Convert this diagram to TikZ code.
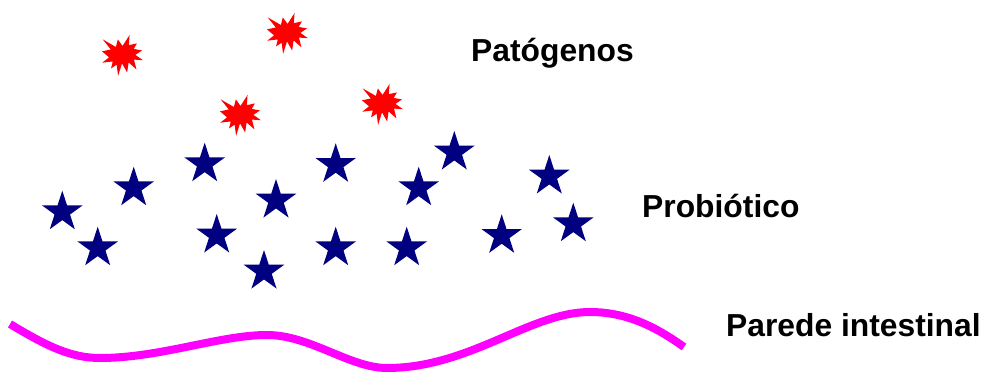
\documentclass[tikz,border=0pt]{standalone}
\usepackage{fontspec}
\setmainfont{Liberation Sans}
\usetikzlibrary{shapes.geometric}
\definecolor{starblue}{RGB}{0,0,128}
\definecolor{burstred}{RGB}{255,0,0}
\definecolor{wallpink}{RGB}{255,0,255}
\tikzset{
  bug/.style={shape=star, star points=5, star point ratio=2.618,
    minimum size=42.6pt, inner sep=0pt, fill=starblue, draw=none},
  burst/.pic={
    \fill[burstred] (20.00,10.74) -- (26.89,0) -- (26.21,9.86) -- (34.04,8.25)
      -- (30.93,13.55) -- (39.07,15.07) -- (32.61,19.40) -- (40,24.61)
      -- (31.18,23.97) -- (33.60,33.51) -- (25.96,26.77) -- (24.53,36.55)
      -- (19.50,27.66) -- (15.71,40) -- (14.29,28.94) -- (8.82,32.62)
      -- (10.49,25.81) -- (0.25,27.01) -- (6.89,21.81) -- (0,15.95)
      -- (8.57,14.11) -- (0.69,4.25) -- (13.54,11.70) -- (15.47,4.25) -- cycle;
  },
  label/.style={anchor=base west, inner sep=0pt,
    font=\fontsize{31.8}{36}\selectfont\bfseries},
  wall/.style={draw=wallpink, line width=8pt, line cap=butt}
}
\begin{document}
\begin{tikzpicture}[x=1pt, y=-1pt]
  \useasboundingbox (0,0) rectangle (984,374);

  % pathogens
  \pic[scale=1.025] at (102,35) {burst};
  \pic[scale=1.025] at (267,13) {burst};
  \pic[scale=1.025] at (220,95) {burst};
  \pic[scale=1.025] at (362,84) {burst};

  % probiotic cells
  \node[bug] (p1)  at (62.3,212.0) {};
  \node[bug] (p2)  at (97.7,248.0) {};
  \node[bug] (p3)  at (133.7,188.0) {};
  \node[bug] (p4)  at (204.7,164.0) {};
  \node[bug] (p5)  at (216.7,235.3) {};
  \node[bug] (p6)  at (276.0,200.3) {};
  \node[bug] (p7)  at (264.0,271.3) {};
  \node[bug] (p8)  at (335.7,164.6) {};
  \node[bug] (p9)  at (335.7,248.0) {};
  \node[bug] (p10) at (418.7,188.0) {};
  \node[bug] (p11) at (406.7,248.0) {};
  \node[bug] (p12) at (454.3,152.3) {};
  \node[bug] (p13) at (501.7,235.6) {};
  \node[bug] (p14) at (549.3,176.3) {};
  \node[bug] (p15) at (573.3,224.0) {};

  % intestinal wall
  \draw[wall] (10,324) .. controls (45,345) and (70,358) .. (100,358)
    .. controls (160,358) and (220,335) .. (267,335)
    .. controls (310,335) and (350,368) .. (387,368)
    .. controls (470,368) and (530,312) .. (590,312)
    .. controls (630,312) and (660,330) .. (684,347);

  % labels
  \node[label] (lpat) at (471,62) {Patógenos};
  \node[label] (lpro) at (642,217) {Probiótico};
  \node[label] (lwall) at (726,336) {Parede intestinal};
\end{tikzpicture}
\end{document}
